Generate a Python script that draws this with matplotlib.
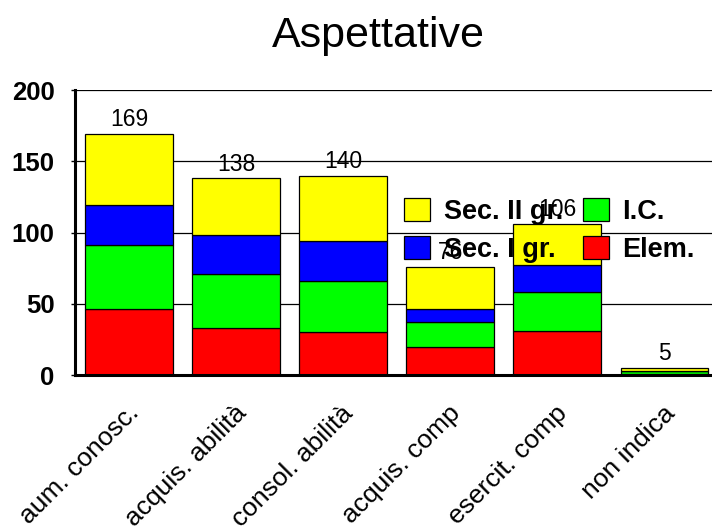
import numpy as np
import matplotlib
matplotlib.use("Agg")
import matplotlib.pyplot as plt
import matplotlib.transforms as mtransforms

plt.rcParams['font.family'] = ['Liberation Sans', 'DejaVu Sans']

categories = ["aum. conosc.", "acquis. abilità", "consol. abilità",
              "acquis. comp", "esercit. comp", "non indica"]
elem = [46, 33, 30, 20, 31, 1]
ic = [45, 38, 36, 17, 27, 2]
sec1 = [28, 27, 28, 9, 19, 0]
sec2 = [50, 40, 46, 30, 29, 2]
totals = [169, 138, 140, 76, 106, 5]

series = [("Elem.", elem, "#ff0000"),
          ("I.C.", ic, "#00ff00"),
          ("Sec. I gr.", sec1, "#0000ff"),
          ("Sec. II gr.", sec2, "#ffff00")]

fig = plt.figure(figsize=(7.12, 5.27), dpi=100)
ax = fig.add_axes([0.106, 0.2884, 0.9025, 0.5408])

x = np.arange(len(categories))
bottom = np.zeros(len(categories))
bars = {}
for name, vals, color in series:
    bars[name] = ax.bar(x, vals, 0.82, bottom=bottom, color=color,
                        edgecolor="black", linewidth=0.9, zorder=2)
    bottom += np.array(vals)

# totals above each stack
for xi, t in zip(x, totals):
    ax.text(xi, t + 2, str(t), ha="center", va="bottom", fontsize=16.5, zorder=3)

ax.set_xlim(-0.5, 5.5)
ax.set_ylim(0, 200)
ax.set_yticks([0, 50, 100, 150, 200])
ax.yaxis.grid(True, color="black", linewidth=0.9)
ax.set_axisbelow(True)
for lab in ax.get_yticklabels():
    lab.set_fontweight("bold")
ax.tick_params(axis="y", labelsize=18.5, length=3, width=1, pad=12)
ax.tick_params(axis="x", length=0)

ax.set_xticks(x)
ax.set_xticklabels(categories, rotation=45, ha="right", va="top",
                   rotation_mode="anchor", fontsize=19)
offset = mtransforms.ScaledTranslation(-0.02, -0.21, fig.dpi_scale_trans)
for lab in ax.get_xticklabels():
    lab.set_transform(lab.get_transform() + offset)

ax.spines["top"].set_visible(False)
ax.spines["right"].set_visible(False)
ax.spines["left"].set_linewidth(2.2)
ax.spines["bottom"].set_linewidth(2.2)

handles = [bars["Sec. II gr."], bars["Sec. I gr."], bars["I.C."], bars["Elem."]]
labels = ["Sec. II gr.", "Sec. I gr.", "I.C.", "Elem."]
leg = ax.legend(handles, labels, ncol=2, frameon=False, loc="upper left",
                bbox_to_anchor=(0.512, 0.62), borderpad=0, borderaxespad=0,
                prop={"weight": "bold", "size": 19.5}, handlelength=0.95,
                handleheight=0.92, handletextpad=0.5, columnspacing=0.75,
                labelspacing=0.42)
leg.set_zorder(5)

fig.text(0.532, 0.91, "Aspettative", ha="center", va="baseline", fontsize=31)

fig.savefig("out.png", dpi=100)
